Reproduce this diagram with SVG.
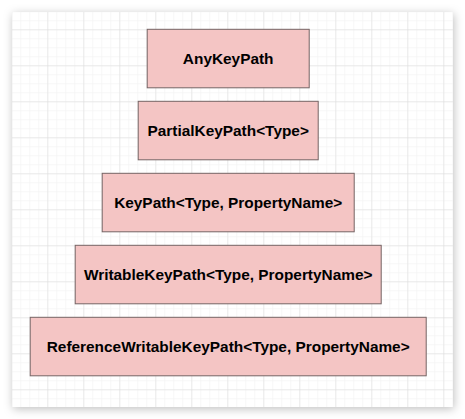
<svg xmlns="http://www.w3.org/2000/svg" width="465" height="419" viewBox="0 0 465 419">
  <defs>
    <filter id="panelShadow" x="-10%" y="-10%" width="120%" height="120%">
      <feDropShadow dx="1" dy="2" stdDeviation="5" flood-color="#000" flood-opacity="0.25"/>
    </filter>
    <pattern id="minorGrid" x="11.3" y="11.3" width="9" height="9" patternUnits="userSpaceOnUse">
      <path d="M 0 0 L 9 0 M 0 0 L 0 9" fill="none" stroke="#f0f0f0" stroke-width="1"/>
    </pattern>
    <pattern id="majorGrid" x="11.3" y="29.3" width="36" height="36" patternUnits="userSpaceOnUse">
      <path d="M 0 0 L 36 0" fill="none" stroke="#dcdcdc" stroke-width="1"/>
    </pattern>
    <pattern id="majorGridV" x="11.3" y="11.3" width="36" height="36" patternUnits="userSpaceOnUse">
      <path d="M 0 0 L 0 36" fill="none" stroke="#dcdcdc" stroke-width="1"/>
    </pattern>
  </defs>
  <style>
    .box { fill: #f4c5c4; stroke: #766464; stroke-width: 1; }
    .label { font-family: "Liberation Sans", Arial, Helvetica, sans-serif; font-size: 15.4px; font-weight: bold; fill: #000; text-anchor: middle; }
  </style>
  <rect x="0" y="0" width="465" height="419" fill="#ffffff"/>
  <rect x="12" y="12" width="441" height="395" fill="#ffffff" filter="url(#panelShadow)"/>
  <rect x="12" y="12" width="441" height="395" fill="url(#minorGrid)"/>
  <rect x="12" y="12" width="441" height="395" fill="url(#majorGrid)"/>
  <rect x="12" y="12" width="441" height="395" fill="url(#majorGridV)"/>
  <g id="connectors"></g>
  <g id="node-anykeypath">
    <rect class="box" x="147.2" y="29.3" width="162" height="58.5"/>
    <text class="label" x="228.2" y="64">AnyKeyPath</text>
  </g>
  <g id="node-partialkeypath">
    <rect class="box" x="138.2" y="101.3" width="180" height="58.5"/>
    <text class="label" x="228.2" y="136">PartialKeyPath&lt;Type&gt;</text>
  </g>
  <g id="node-keypath">
    <rect class="box" x="102.2" y="173.3" width="252" height="58.5"/>
    <text class="label" x="228.2" y="208">KeyPath&lt;Type, PropertyName&gt;</text>
  </g>
  <g id="node-writablekeypath">
    <rect class="box" x="75.2" y="245.3" width="306" height="58.5"/>
    <text class="label" x="228.2" y="280">WritableKeyPath&lt;Type, PropertyName&gt;</text>
  </g>
  <g id="node-referencewritablekeypath">
    <rect class="box" x="30.2" y="317.3" width="396" height="58.5"/>
    <text class="label" x="228.2" y="352">ReferenceWritableKeyPath&lt;Type, PropertyName&gt;</text>
  </g>
</svg>
